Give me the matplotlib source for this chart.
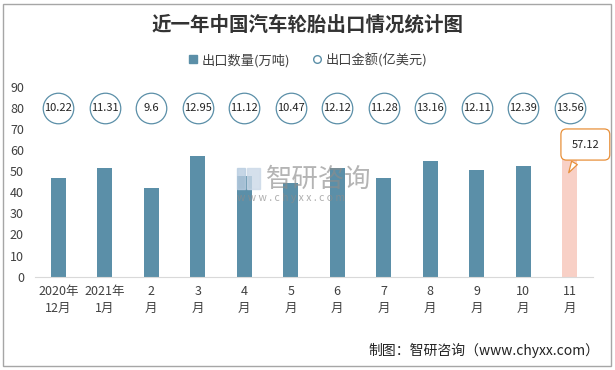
import matplotlib
matplotlib.use("Agg")
import matplotlib.pyplot as plt
from matplotlib.lines import Line2D
from matplotlib.patches import Rectangle

plt.rcParams['font.family'] = ['Noto Sans CJK SC', 'DejaVu Sans']

# data
months = ['2020年\n12月', '2021年\n1月', '2\n月', '3\n月', '4\n月', '5\n月',
          '6\n月', '7\n月', '8\n月', '9\n月', '10\n月', '11\n月']
volume = [46.8, 51.5, 42.0, 57.2, 47.7, 44.4, 51.3, 46.8, 54.8, 50.5, 52.4, 57.12]
value = [10.22, 11.31, 9.6, 12.95, 11.12, 10.47, 12.12, 11.28, 13.16, 12.11, 12.39, 13.56]
circle_level = 80

bar_color = '#5B8FA8'
last_color = '#F8D0C6'
text_color = '#404040'

fig = plt.figure(figsize=(6.15, 3.7), dpi=100)
ax = fig.add_axes([0.057, 0.252, 0.907, 0.514])

x = list(range(len(months)))
colors = [bar_color] * (len(x) - 1) + [last_color]
ax.bar(x, volume, width=0.32, color=colors, zorder=2)

# amount circles
ax.plot(x, [circle_level] * len(x), linestyle='none', marker='o', markersize=22,
        markerfacecolor='white', markeredgecolor=bar_color, markeredgewidth=0.9, zorder=3)
for xi, v in zip(x, value):
    ax.text(xi, circle_level, f'{v:g}', ha='center', va='center', fontsize=8,
            color='#222222', zorder=4)

# callout on last bar
ax.annotate(f'{volume[-1]:g}', xy=(x[-1] - 0.05, volume[-1] - 9),
            xytext=(13, 22), textcoords='offset points',
            ha='center', va='center', fontsize=8, color='#222222',
            bbox=dict(boxstyle='round,pad=0.95,rounding_size=0.5', fc='white',
                      ec='#E8903A', lw=0.9),
            arrowprops=dict(arrowstyle='wedge,tail_width=0.6,shrink_factor=0.5',
                            fc='white', ec='#E8903A', lw=0.9),
            zorder=5)

ax.set_ylim(0, 90)
ax.set_yticks(range(0, 91, 10))
ax.set_xlim(-0.5, len(x) - 0.5)
ax.set_xticks(x)
ax.set_xticklabels(months, fontsize=9, color=text_color, linespacing=1.35)
ax.tick_params(axis='y', length=0, labelsize=9, labelcolor=text_color, pad=8)
ax.tick_params(axis='x', length=0, pad=6)
for s in ['left', 'top', 'right']:
    ax.spines[s].set_visible(False)
ax.spines['bottom'].set_color('#D9D9D9')

# title and legend
fig.text(0.5, 0.932, '近一年中国汽车轮胎出口情况统计图', ha='center', va='center',
         fontsize=14, fontweight='bold', color='#333333')
handles = [
    Line2D([], [], linestyle='none', marker='s', markersize=6, color=bar_color),
    Line2D([], [], linestyle='none', marker='o', markersize=5.5, markerfacecolor='white',
           markeredgecolor=bar_color),
]
fig.legend(handles, ['出口数量(万吨)', '出口金额(亿美元)'], loc='center',
           bbox_to_anchor=(0.5, 0.838), ncol=2, frameon=False, fontsize=9.5,
           handlelength=0.8, handletextpad=0.3, columnspacing=1.6,
           labelcolor=text_color)

# watermark
fig.patches.append(Rectangle((0.386, 0.49), 0.012, 0.055, transform=fig.transFigure,
                             color='#B8CCE0', alpha=0.8, zorder=1))
fig.patches.append(Rectangle((0.401, 0.49), 0.022, 0.055, transform=fig.transFigure,
                             color='#CBD9E8', alpha=0.8, zorder=1))
fig.text(0.432, 0.515, '智研咨询', fontsize=19, color='#8C8C8C', alpha=0.65,
         va='center', ha='left', zorder=1)
fig.text(0.386, 0.465, 'w w w . c h y x x . c o m', fontsize=7.5, color='#8C8C8C',
         alpha=0.7, va='center', ha='left', zorder=1)

# footer
fig.text(0.975, 0.054, '制图：智研咨询（www.chyxx.com）', ha='right', va='center',
         fontsize=10, color='#222222')

# outer border
fig.patches.append(Rectangle((0.005, 0.01), 0.989, 0.98, transform=fig.transFigure,
                             fill=False, ec='#A6A6A6', lw=1.0))

fig.savefig('out.png', dpi=100)
